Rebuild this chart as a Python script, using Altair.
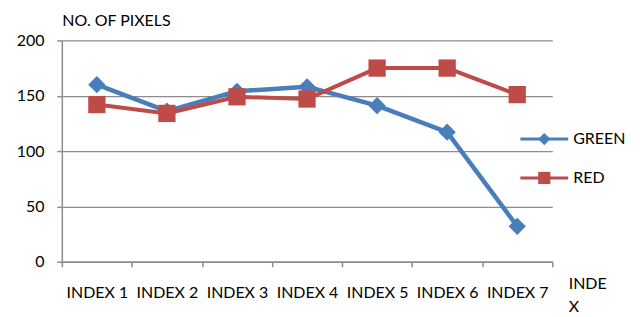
import altair as alt
import pandas as pd

categories = ["INDEX 1", "INDEX 2", "INDEX 3", "INDEX 4", "INDEX 5", "INDEX 6", "INDEX 7"]
green = [160, 136, 154, 158, 141, 117, 32]
red = [142, 134, 149, 147, 175, 175, 151]
series_names = ["GREEN", "RED"]
series_colors = ["#4A7EBB", "#BE4B48"]
series_shapes = ["diamond", "square"]
y_ticks = [0, 50, 100, 150, 200]

FONT = "Lato"
GRID = "#8C8C8C"

rows = []
for c, g, r in zip(categories, green, red):
    rows.append({"index": c, "series": "GREEN", "value": g})
    rows.append({"index": c, "series": "RED", "value": r})
df = pd.DataFrame(rows)

x_enc = alt.X(
    "index:N",
    sort=categories,
    scale=alt.Scale(type="band", paddingInner=0, paddingOuter=0),
    bandPosition=0.5,
    axis=alt.Axis(
        title=["INDE", "X"],
        labelAngle=0,
        tickBand="extent",
        tickSize=5,
        labelPadding=18,
        grid=False,
        titleX=508,
        titleY=27,
        titleAlign="left",
        titleBaseline="alphabetic",
        titleLineHeight=23,
    ),
)
y_enc = alt.Y(
    "value:Q",
    scale=alt.Scale(domain=[0, 200], nice=False),
    axis=alt.Axis(
        values=y_ticks,
        title="NO. OF PIXELS",
        titleAngle=0,
        titleX=0,
        titleY=-15,
        titleAlign="left",
        titleBaseline="alphabetic",
        tickSize=5,
        labelPadding=13,
        grid=True,
    ),
)
color_enc = alt.Color("series:N", scale=alt.Scale(domain=series_names, range=series_colors), legend=None)
shape_enc = alt.Shape("series:N", scale=alt.Scale(domain=series_names, range=series_shapes), legend=None)

layers = []
widths = [4.5, 4]
sizes = [300, 300]
for name, w, s in zip(series_names, widths, sizes):
    base = alt.Chart(df).transform_filter(alt.datum.series == name)
    layers.append(base.mark_line(strokeWidth=w).encode(x=x_enc, y=y_enc, color=color_enc))
    layers.append(
        base.mark_point(filled=True, opacity=1, size=s).encode(x=x_enc, y=y_enc, color=color_enc, shape=shape_enc)
    )

# manual legend
legend_y = [99, 138]
for name, col, shp, ly in zip(series_names, series_colors, series_shapes, legend_y):
    ldf = pd.DataFrame({"series": [name]})
    lb = alt.Chart(ldf)
    layers.append(
        lb.mark_rule(color=col, strokeWidth=3).encode(x=alt.value(460), x2=alt.value(508), y=alt.value(ly))
    )
    layers.append(
        lb.mark_point(filled=True, opacity=1, size=150, shape=shp, color=col).encode(
            x=alt.value(484), y=alt.value(ly)
        )
    )
    layers.append(
        lb.mark_text(align="left", baseline="middle", font=FONT, fontSize=16, color="black").encode(
            x=alt.value(513), y=alt.value(ly), text="series:N"
        )
    )

chart = (
    alt.layer(*layers)
    .properties(
        width=492,
        height=222,
        padding={"left": 54, "top": 32, "right": 80, "bottom": 55},
        autosize=alt.AutoSizeParams(type="none"),
        background="white",
    )
    .configure_axis(
        labelFont=FONT,
        titleFont=FONT,
        labelFontSize=16,
        titleFontSize=16,
        labelColor="black",
        titleColor="black",
        titleFontWeight="normal",
        domainColor=GRID,
        tickColor=GRID,
        gridColor=GRID,
        domainWidth=1.5,
        tickWidth=1.5,
        gridWidth=1.2,
    )
    .configure_view(stroke=None)
)

chart.save("out.html", embed_options={"renderer": "svg", "actions": False})
